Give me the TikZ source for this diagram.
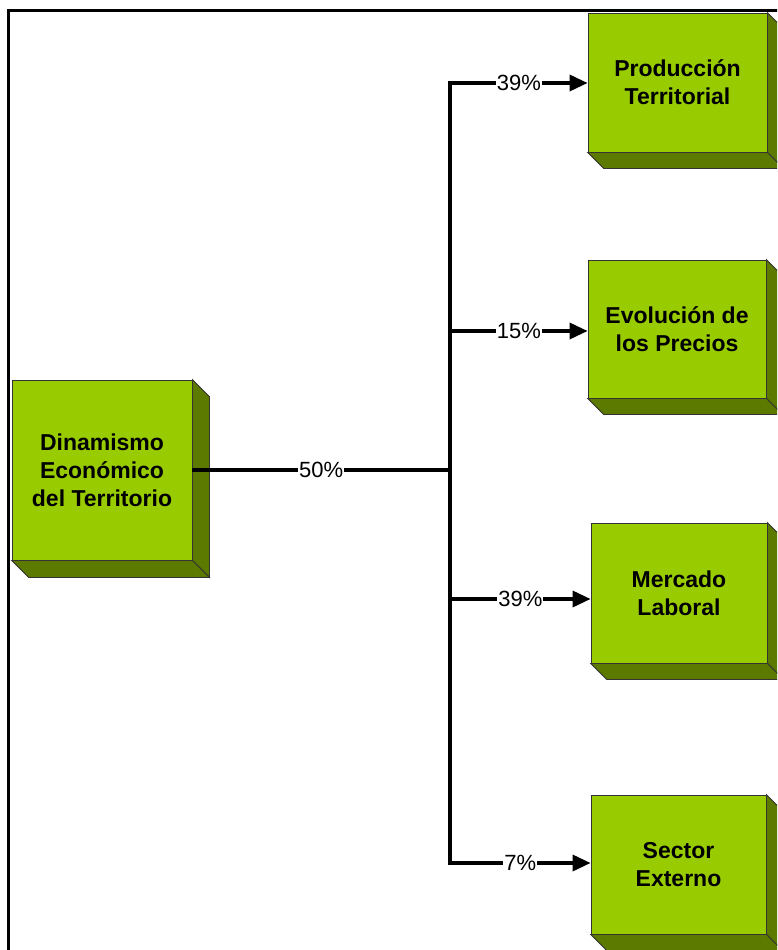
\documentclass[tikz,border=0pt]{standalone}
\usepackage{fontspec}
\setmainfont{Liberation Sans}
\usetikzlibrary{arrows.meta}

\definecolor{verdecara}{RGB}{153,204,0}
\definecolor{verdelado}{RGB}{92,122,0}

\tikzset{
  cubo/.style={rectangle, draw=black!80, line width=0.8pt, fill=verdecara,
    align=center, inner sep=0pt, font=\fontsize{23}{28}\selectfont\bfseries},
  lado/.style={draw=black!80, line width=0.8pt, fill=verdelado},
  linea/.style={line width=3.4pt},
  flecha/.style={line width=3.4pt, -{Triangle[length=18pt,width=16pt]}},
  pct/.style={fill=white, inner sep=1pt, font=\fontsize{22}{26}\selectfont},
}

\begin{document}
\begin{tikzpicture}[x=1pt, y=-1pt]
    \useasboundingbox (0,0) rectangle (777,950);
    \clip (0,0) rectangle (777,950);
    % marco
    \draw[line width=3.4pt] (8.5,10.5) rectangle (800,980);

    % cajas
    \node [cubo, minimum width=180pt, minimum height=180pt] (din) at (102,470) {Dinamismo\\Económico\\del Territorio};
    \node [cubo, minimum width=179pt, minimum height=139pt] (prod) at (677.5,82.5) {Producción\\Territorial};
    \node [cubo, minimum width=178pt, minimum height=138pt] (evol) at (677,329) {Evolución de\\los Precios};
    \node [cubo, minimum width=176pt, minimum height=140pt] (merc) at (679,593) {Mercado\\Laboral};
    \node [cubo, minimum width=175pt, minimum height=139pt] (sect) at (678.5,864.5) {Sector\\Externo};

    % caras laterales
    \foreach \n/\d in {din/17, prod/16, evol/16, merc/16, sect/16} {
        \filldraw[lado] (\n.north east) -- ++(\d,\d) -- ([shift={(\d,\d)}]\n.south east) -- (\n.south east) -- cycle;
        \filldraw[lado] (\n.south west) -- (\n.south east) -- ++(\d,\d) -- ([shift={(\d,\d)}]\n.south west) -- cycle;
    }

    % tronco
    \coordinate (t1) at (450,83);
    \coordinate (t2) at (450,331);
    \coordinate (t0) at (450,470);
    \coordinate (t3) at (450,599);
    \coordinate (t4) at (450,863);

    \draw[linea, line cap=rect] (t1) -- (t4);
    \path[linea] (din.east) edge node[pct] {50\%} (t0);

    \draw[flecha] (t1) -- node[pct] {39\%} (t1 -| prod.west);
    \draw[flecha] (t2) -- node[pct] {15\%} (t2 -| evol.west);
    \draw[flecha] (t3) -- node[pct] {39\%} (t3 -| merc.west);
    \draw[flecha] (t4) -- node[pct] {7\%} (t4 -| sect.west);
\end{tikzpicture}
\end{document}
